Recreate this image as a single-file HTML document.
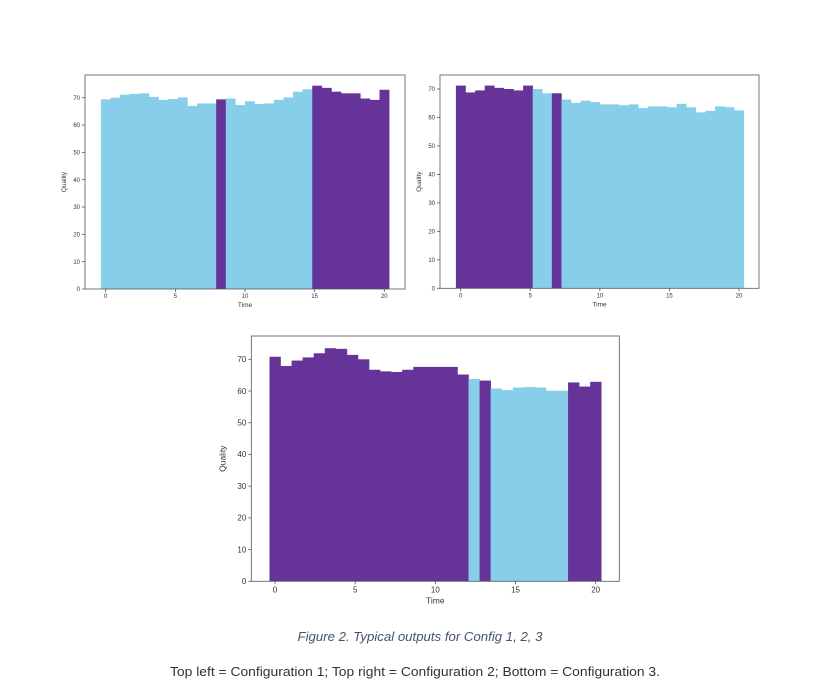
<!DOCTYPE html>
<html><head><meta charset="utf-8"><style>
html,body{margin:0;padding:0;background:#fff;}
svg{display:block;font-family:"Liberation Sans",sans-serif;}
</style></head><body>
<svg id="fig" width="839" height="697" viewBox="0 0 839 697" xmlns="http://www.w3.org/2000/svg">
<text x="420" y="641" text-anchor="middle" font-size="12.5" font-style="italic" fill="#44546a" textLength="245" lengthAdjust="spacingAndGlyphs">Figure 2. Typical outputs for Config 1, 2, 3</text>
<text x="415" y="676" text-anchor="middle" font-size="12.5" fill="#333" textLength="490" lengthAdjust="spacingAndGlyphs">Top left = Configuration 1; Top right = Configuration 2; Bottom = Configuration 3.</text>
</svg>
<script>
const times = Array.from({length:30},(_,i)=>i*20/29);
const c1Values = [69.4,70,71.1,71.4,71.6,70.3,69.2,69.5,70.1,67,67.9,67.9,69.4,69.7,67.3,68.7,67.7,67.9,69.2,70.1,72.2,73.1,74.4,73.6,72.2,71.6,71.6,69.7,69.2,72.9];
const c1Purple = [12,22,23,24,25,26,27,28,29];
const c2Values = [71.2,68.8,69.5,71.2,70.4,70,69.5,71.2,70,68.5,68.5,66.3,65.1,65.9,65.4,64.6,64.6,64.3,64.6,63.3,63.9,63.9,63.6,64.8,63.6,61.8,62.3,63.9,63.6,62.5];
const c2Purple = [0,1,2,3,4,5,6,7,10];
const c3Values = [70.8,67.9,69.6,70.6,71.9,73.5,73.3,71.4,70,66.7,66.2,66,66.7,67.6,67.6,67.6,67.6,65.2,63.8,63.3,60.8,60.3,61.1,61.3,61.1,60.1,60.1,62.7,61.4,62.9];
const c3Purple = [0,1,2,3,4,5,6,7,8,9,10,11,12,13,14,15,16,17,19,27,28,29];
const xTicks = [0,5,10,15,20];
const yTicks = [0,10,20,30,40,50,60,70];

const NS="http://www.w3.org/2000/svg";
const svg=document.getElementById('fig');
function mk(tag,attrs,parent){const e=document.createElementNS(NS,tag);for(const k in attrs)e.setAttribute(k,attrs[k]);(parent||svg).appendChild(e);return e;}

function chart(name,box,x0px,x20px,y0px,y70px,values,purple,fs){
  const g=mk('g',{});
  
  
  const sx=v=>x0px+(x20px-x0px)*v/20;
  const sy=v=>y0px+(y70px-y0px)*v/70;
  const w=(sx(20/29)-sx(0));
  values.forEach((v,i)=>{
    const isP=purple.includes(i);
    const r=mk('rect',{x:sx(times[i])-w/2,y:sy(v),width:w+0.3,height:sy(0)-sy(v),fill:isP?'#663399':'#87ceeb'},g);
    
    
  });
  const frame=mk('rect',{x:box[0],y:box[1],width:box[2]-box[0],height:box[3]-box[1],fill:'none',stroke:'#555','stroke-width':0.8},g);
  
  
  xTicks.forEach(t=>{
    const x=sx(t);
    mk('line',{x1:x,x2:x,y1:box[3],y2:box[3]+3,stroke:'#555','stroke-width':0.8},g);
    const tx=mk('text',{x:x,y:box[3]+3+fs,'text-anchor':'middle','font-size':fs,fill:'#333'},g);
    tx.textContent=t;
    
    
  });
  yTicks.forEach(t=>{
    const y=sy(t);
    mk('line',{x1:box[0]-3,x2:box[0],y1:y,y2:y,stroke:'#555','stroke-width':0.8},g);
    const tx=mk('text',{x:box[0]-5,y:y+fs*0.35,'text-anchor':'end','font-size':fs,fill:'#333'},g);
    tx.textContent=t;
    
    
  });
  const xl=mk('text',{x:(box[0]+box[2])/2,y:box[3]+5+2*fs+1,'text-anchor':'middle','font-size':fs+0.5,fill:'#333'},g);
  xl.textContent='Time';
  
  
  const yx=box[0]-fs*3.2, yy=(box[1]+box[3])/2;
  const yl=mk('text',{x:yx,y:yy,'text-anchor':'middle','font-size':fs+0.5,fill:'#333',transform:`rotate(-90 ${yx} ${yy})`},g);
  yl.textContent='Quality';
  
  
}
chart('chart-config-1',[85,75,405,289],105.7,384.3,289,97.7,c1Values,c1Purple,6);
chart('chart-config-2',[440,75,759,288.3],460.7,739,288.3,89,c2Values,c2Purple,6);
chart('chart-config-3',[251.3,336,619.3,581.3],275,595.7,581.3,359.3,c3Values,c3Purple,8);
</script>
</body></html>
